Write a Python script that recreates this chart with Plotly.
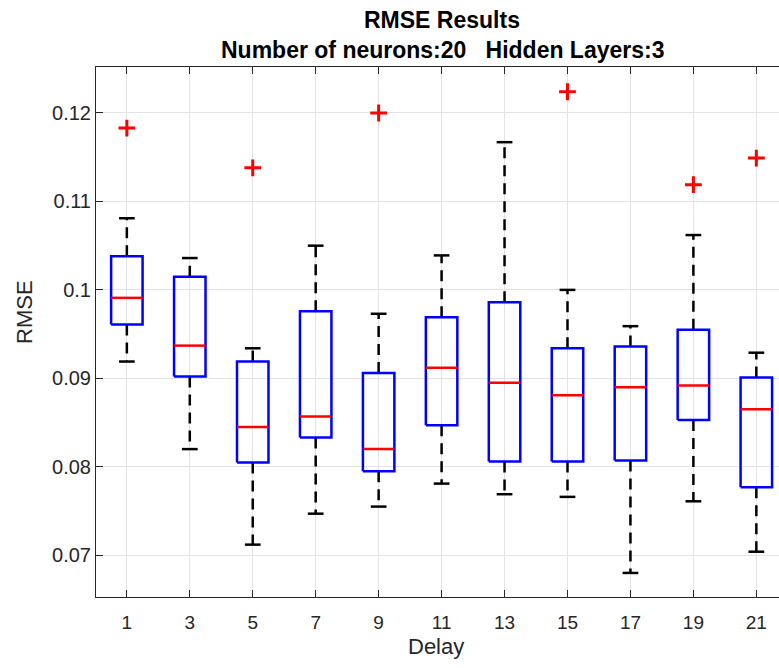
import plotly.graph_objects as go

delays = [1, 3, 5, 7, 9, 11, 13, 15, 17, 19, 21]
lower_whisker = [0.0919, 0.0820, 0.0712, 0.0747, 0.0755, 0.0781, 0.0769, 0.0766, 0.0680, 0.0761, 0.0704]
q1 = [0.0961, 0.0902, 0.0805, 0.0833, 0.0795, 0.0847, 0.0806, 0.0806, 0.0807, 0.0853, 0.0777]
median = [0.0991, 0.0937, 0.0845, 0.0857, 0.0820, 0.0912, 0.0895, 0.0881, 0.0890, 0.0892, 0.0865]
q3 = [0.1038, 0.1015, 0.0919, 0.0976, 0.0906, 0.0969, 0.0986, 0.0934, 0.0936, 0.0955, 0.0901]
upper_whisker = [0.1081, 0.1036, 0.0934, 0.1050, 0.0973, 0.1039, 0.1167, 0.1000, 0.0959, 0.1062, 0.0929]
outlier_x = [1, 5, 9, 15, 19, 21]
outlier_y = [0.1183, 0.1138, 0.1200, 0.1224, 0.1119, 0.1149]
y_ticks = [0.07, 0.08, 0.09, 0.10, 0.11, 0.12]
y_ticktext = ["0.07", "0.08", "0.09", "0.1", "0.11", "0.12"]

BOX_HALF = 0.5
CAP_HALF = 0.25
FONT = "Liberation Sans, Arial, sans-serif"
AX = "#262626"

wx, wy, cx, cy, bx, by, mx, my = [], [], [], [], [], [], [], []
for d, lo, a, m, b, hi in zip(delays, lower_whisker, q1, median, q3, upper_whisker):
    wx += [d, d, None, d, d, None]
    wy += [b, hi, None, a, lo, None]
    cx += [d - CAP_HALF, d + CAP_HALF, None, d - CAP_HALF, d + CAP_HALF, None]
    cy += [hi, hi, None, lo, lo, None]
    bx += [d - BOX_HALF, d + BOX_HALF, d + BOX_HALF, d - BOX_HALF, d - BOX_HALF, None]
    by += [a, a, b, b, a, None]
    mx += [d - BOX_HALF, d + BOX_HALF, None]
    my += [m, m, None]

fig = go.Figure()
fig.add_trace(go.Scatter(x=wx, y=wy, mode="lines", line=dict(color="black", width=2.5, dash="11px,7px"), hoverinfo="skip"))
fig.add_trace(go.Scatter(x=cx, y=cy, mode="lines", line=dict(color="black", width=2.5), hoverinfo="skip"))
fig.add_trace(go.Scatter(x=bx, y=by, mode="lines", line=dict(color="#0000ff", width=2.5), hoverinfo="skip"))
fig.add_trace(go.Scatter(x=mx, y=my, mode="lines", line=dict(color="#ff0000", width=2.5), hoverinfo="skip"))
fig.add_trace(go.Scatter(x=outlier_x, y=outlier_y, mode="markers",
                         marker=dict(symbol="cross-thin", size=12, line=dict(color="#ff0000", width=3)),
                         hoverinfo="skip"))

L, R, T, B = 96, 0, 67, 71
W, H = 779, 668
pw = W - L - R
ph = H - T - B


def px_x(px):
    return (px - L) / pw


def px_y(py):
    return ((H - B) - py) / ph


fig.update_layout(
    width=W, height=H,
    margin=dict(l=L, r=R, t=T, b=B),
    paper_bgcolor="white", plot_bgcolor="white",
    showlegend=False,
    font=dict(family=FONT, color=AX, size=19),
    xaxis=dict(
        range=[0.02, 21.72], tickmode="array", tickvals=delays, ticktext=[str(d) for d in delays],
        showgrid=True, gridcolor="#e3e3e3", gridwidth=1,
        showline=True, linecolor=AX, linewidth=1, mirror="ticks",
        ticks="inside", ticklen=7, tickcolor=AX, zeroline=False,
        ticklabelstandoff=8,
        tickfont=dict(size=19, color=AX, family=FONT),
    ),
    yaxis=dict(
        range=[0.06528, 0.1252], tickmode="array",
        tickvals=y_ticks, ticktext=y_ticktext,
        showgrid=True, gridcolor="#e3e3e3", gridwidth=1,
        showline=True, linecolor=AX, linewidth=1, mirror=False,
        ticks="inside", ticklen=7, tickcolor=AX, zeroline=False,
        tickfont=dict(size=20, color=AX, family=FONT),
    ),
)

fig.add_annotation(text="<b>RMSE Results</b>", xref="paper", yref="paper",
                   x=px_x(442), y=px_y(19.5), xanchor="center", yanchor="middle",
                   showarrow=False, font=dict(family=FONT, size=23, color="black"))
fig.add_annotation(text="<b>Number of neurons:20&nbsp;&nbsp;&nbsp;Hidden Layers:3</b>", xref="paper", yref="paper",
                   x=px_x(442), y=px_y(49.5), xanchor="center", yanchor="middle",
                   showarrow=False, font=dict(family=FONT, size=23, color="black"))
fig.add_annotation(text="Delay", xref="paper", yref="paper",
                   x=px_x(435.5), y=px_y(646), xanchor="center", yanchor="middle",
                   showarrow=False, font=dict(family=FONT, size=22, color=AX))
fig.add_annotation(text="RMSE", xref="paper", yref="paper", textangle=-90,
                   x=px_x(24), y=px_y(312), xanchor="center", yanchor="middle",
                   showarrow=False, font=dict(family=FONT, size=22, color=AX))

fig.write_html("out.html")
